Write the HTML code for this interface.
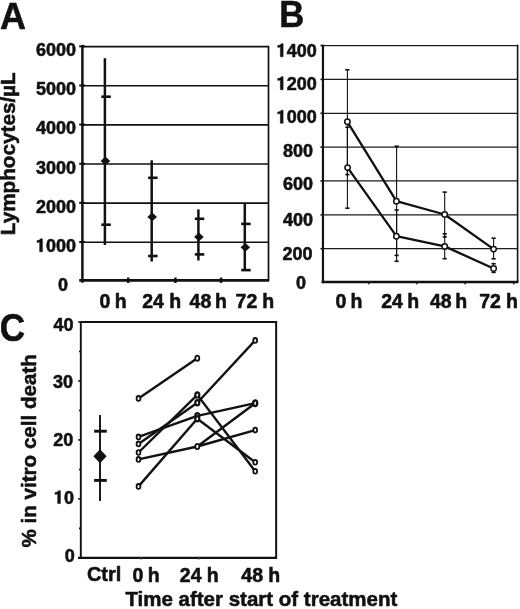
<!DOCTYPE html>
<html><head><meta charset="utf-8"><style>
html,body{margin:0;padding:0;background:#fff;width:520px;height:609px;overflow:hidden}
svg{display:block;will-change:transform}
path.g{fill:#111;stroke:#111;stroke-width:0.55px;stroke-linejoin:round}
text{font-family:"Liberation Sans",sans-serif;font-weight:bold;fill:#111;stroke:#111;stroke-width:0.55px;stroke-linejoin:round}
</style></head><body>
<svg width="520" height="609" viewBox="0 0 520 609">
<text x="0.10" y="28.50" font-size="36" text-anchor="start" >A</text>
<text transform="translate(279.3,26.7) scale(0.962,1)" font-size="36">B</text>
<text transform="translate(-0.33,340.8) scale(0.975,1.07)" font-size="36">C</text>
<line x1="82.40" y1="46.65" x2="268.50" y2="46.65" stroke="#111" stroke-width="1.6"/>
<line x1="79.20" y1="46.35" x2="85.00" y2="46.35" stroke="#111" stroke-width="2.0"/>
<line x1="82.40" y1="85.78" x2="268.50" y2="85.78" stroke="#111" stroke-width="1.6"/>
<line x1="79.20" y1="85.48" x2="85.00" y2="85.48" stroke="#111" stroke-width="2.0"/>
<line x1="82.40" y1="124.91" x2="268.50" y2="124.91" stroke="#111" stroke-width="1.6"/>
<line x1="79.20" y1="124.61" x2="85.00" y2="124.61" stroke="#111" stroke-width="2.0"/>
<line x1="82.40" y1="164.04" x2="268.50" y2="164.04" stroke="#111" stroke-width="1.6"/>
<line x1="79.20" y1="163.74" x2="85.00" y2="163.74" stroke="#111" stroke-width="2.0"/>
<line x1="82.40" y1="203.17" x2="268.50" y2="203.17" stroke="#111" stroke-width="1.6"/>
<line x1="79.20" y1="202.87" x2="85.00" y2="202.87" stroke="#111" stroke-width="2.0"/>
<line x1="82.40" y1="242.30" x2="268.50" y2="242.30" stroke="#111" stroke-width="1.6"/>
<line x1="79.20" y1="242.00" x2="85.00" y2="242.00" stroke="#111" stroke-width="2.0"/>
<line x1="268.50" y1="45.85" x2="268.50" y2="280.35" stroke="#111" stroke-width="1.7"/>
<line x1="79.20" y1="280.35" x2="269.20" y2="280.35" stroke="#111" stroke-width="2.6"/>
<line x1="128.20" y1="277.55" x2="128.20" y2="282.95" stroke="#111" stroke-width="2.5"/>
<line x1="175.40" y1="277.55" x2="175.40" y2="282.95" stroke="#111" stroke-width="2.5"/>
<line x1="221.10" y1="277.55" x2="221.10" y2="282.95" stroke="#111" stroke-width="2.5"/>
<line x1="82.40" y1="44.85" x2="82.40" y2="282.75" stroke="#111" stroke-width="2.5"/>
<text x="36.00" y="56.15" font-size="18" text-anchor="start" >6000</text>
<text x="36.00" y="95.28" font-size="18" text-anchor="start" >5000</text>
<text x="36.00" y="134.41" font-size="18" text-anchor="start" >4000</text>
<text x="36.00" y="173.54" font-size="18" text-anchor="start" >3000</text>
<text x="36.00" y="212.67" font-size="18" text-anchor="start" >2000</text>
<path d="M39.69 251.80L42.39 251.80L42.39 238.86L40.50 238.86C40.14 239.74 38.88 240.55 36.99 240.68L36.99 242.44C37.98 242.42 39.06 242.30 39.69 242.08Z" class="g"/>
<text x="46.01" y="251.80" font-size="18" text-anchor="start" >000</text>
<text x="58.00" y="290.95" font-size="18" text-anchor="start" >0</text>
<line x1="104.90" y1="58.20" x2="104.90" y2="245.00" stroke="#111" stroke-width="2.5"/>
<line x1="101.30" y1="96.70" x2="110.80" y2="96.70" stroke="#111" stroke-width="2.6"/>
<line x1="101.30" y1="224.70" x2="110.80" y2="224.70" stroke="#111" stroke-width="2.6"/>
<path d="M100.60 161.00L105.40 156.60L110.20 161.00L105.40 165.40Z" fill="#111"/>
<line x1="151.70" y1="160.30" x2="151.70" y2="261.50" stroke="#111" stroke-width="2.5"/>
<line x1="148.10" y1="177.80" x2="157.60" y2="177.80" stroke="#111" stroke-width="2.6"/>
<line x1="148.10" y1="256.00" x2="157.60" y2="256.00" stroke="#111" stroke-width="2.6"/>
<path d="M147.40 216.90L152.20 212.50L157.00 216.90L152.20 221.30Z" fill="#111"/>
<line x1="198.40" y1="209.40" x2="198.40" y2="260.50" stroke="#111" stroke-width="2.5"/>
<line x1="194.80" y1="218.80" x2="204.30" y2="218.80" stroke="#111" stroke-width="2.6"/>
<line x1="194.80" y1="254.40" x2="204.30" y2="254.40" stroke="#111" stroke-width="2.6"/>
<path d="M194.10 236.90L198.90 232.50L203.70 236.90L198.90 241.30Z" fill="#111"/>
<line x1="244.80" y1="203.00" x2="244.80" y2="270.10" stroke="#111" stroke-width="2.5"/>
<line x1="241.20" y1="223.90" x2="250.70" y2="223.90" stroke="#111" stroke-width="2.6"/>
<line x1="241.20" y1="270.10" x2="250.70" y2="270.10" stroke="#111" stroke-width="2.6"/>
<path d="M240.50 247.30L245.30 242.90L250.10 247.30L245.30 251.70Z" fill="#111"/>
<text x="99.40" y="307.60" font-size="19.5" text-anchor="start" >0</text>
<text x="114.80" y="307.60" font-size="19.5" text-anchor="start" >h</text>
<text x="142.20" y="307.60" font-size="19.5" text-anchor="start" >24</text>
<text x="169.20" y="307.60" font-size="19.5" text-anchor="start" >h</text>
<text x="189.60" y="307.60" font-size="19.5" text-anchor="start" >48</text>
<text x="215.10" y="307.60" font-size="19.5" text-anchor="start" >h</text>
<text x="235.60" y="307.60" font-size="19.5" text-anchor="start" >72</text>
<text x="262.30" y="307.60" font-size="19.5" text-anchor="start" >h</text>
<text transform="translate(15.4,235.2) rotate(-90)" font-size="20.7">Lymphocytes/µL</text>
<line x1="322.95" y1="45.55" x2="517.60" y2="45.55" stroke="#1c1c1c" stroke-width="1.25"/>
<line x1="320.50" y1="45.55" x2="322.95" y2="45.55" stroke="#111" stroke-width="1.6"/>
<line x1="322.95" y1="79.41" x2="517.60" y2="79.41" stroke="#1c1c1c" stroke-width="1.25"/>
<line x1="320.50" y1="79.41" x2="322.95" y2="79.41" stroke="#111" stroke-width="1.6"/>
<line x1="322.95" y1="113.27" x2="517.60" y2="113.27" stroke="#1c1c1c" stroke-width="1.25"/>
<line x1="320.50" y1="113.27" x2="322.95" y2="113.27" stroke="#111" stroke-width="1.6"/>
<line x1="322.95" y1="147.13" x2="517.60" y2="147.13" stroke="#1c1c1c" stroke-width="1.25"/>
<line x1="320.50" y1="147.13" x2="322.95" y2="147.13" stroke="#111" stroke-width="1.6"/>
<line x1="322.95" y1="180.99" x2="517.60" y2="180.99" stroke="#1c1c1c" stroke-width="1.25"/>
<line x1="320.50" y1="180.99" x2="322.95" y2="180.99" stroke="#111" stroke-width="1.6"/>
<line x1="322.95" y1="214.85" x2="517.60" y2="214.85" stroke="#1c1c1c" stroke-width="1.25"/>
<line x1="320.50" y1="214.85" x2="322.95" y2="214.85" stroke="#111" stroke-width="1.6"/>
<line x1="322.95" y1="248.71" x2="517.60" y2="248.71" stroke="#1c1c1c" stroke-width="1.25"/>
<line x1="320.50" y1="248.71" x2="322.95" y2="248.71" stroke="#111" stroke-width="1.6"/>
<line x1="517.60" y1="44.75" x2="517.60" y2="281.90" stroke="#111" stroke-width="1.6"/>
<line x1="321.60" y1="281.90" x2="518.40" y2="281.90" stroke="#111" stroke-width="2.5"/>
<line x1="368.80" y1="281.90" x2="368.80" y2="284.30" stroke="#111" stroke-width="1.6"/>
<line x1="416.80" y1="281.90" x2="416.80" y2="284.30" stroke="#111" stroke-width="1.6"/>
<line x1="465.20" y1="281.90" x2="465.20" y2="284.30" stroke="#111" stroke-width="1.6"/>
<line x1="513.70" y1="281.90" x2="513.70" y2="284.30" stroke="#111" stroke-width="1.6"/>
<line x1="322.95" y1="44.65" x2="322.95" y2="283.10" stroke="#111" stroke-width="2.2"/>
<path d="M280.39 56.70L283.09 56.70L283.09 43.76L281.20 43.76C280.84 44.64 279.58 45.45 277.69 45.58L277.69 47.34C278.68 47.32 279.76 47.20 280.39 46.98Z" class="g"/>
<text x="286.71" y="56.70" font-size="18" text-anchor="start" >400</text>
<path d="M280.39 89.70L283.09 89.70L283.09 76.76L281.20 76.76C280.84 77.64 279.58 78.45 277.69 78.58L277.69 80.34C278.68 80.32 279.76 80.20 280.39 79.98Z" class="g"/>
<text x="286.71" y="89.70" font-size="18" text-anchor="start" >200</text>
<path d="M280.39 123.20L283.09 123.20L283.09 110.26L281.20 110.26C280.84 111.14 279.58 111.95 277.69 112.08L277.69 113.84C278.68 113.82 279.76 113.70 280.39 113.48Z" class="g"/>
<text x="286.71" y="123.20" font-size="18" text-anchor="start" >000</text>
<text x="283.00" y="156.90" font-size="18" text-anchor="start" >800</text>
<text x="283.00" y="190.40" font-size="18" text-anchor="start" >600</text>
<text x="283.00" y="226.00" font-size="18" text-anchor="start" >400</text>
<text x="282.60" y="260.20" font-size="18" text-anchor="start" >200</text>
<text x="296.10" y="289.20" font-size="18" text-anchor="start" >0</text>
<line x1="347.40" y1="69.80" x2="347.40" y2="174.60" stroke="#111" stroke-width="1.1"/>
<line x1="345.30" y1="69.80" x2="349.50" y2="69.80" stroke="#111" stroke-width="1.6"/>
<line x1="345.30" y1="174.60" x2="349.50" y2="174.60" stroke="#111" stroke-width="1.6"/>
<line x1="347.40" y1="127.30" x2="347.40" y2="208.20" stroke="#111" stroke-width="1.1"/>
<line x1="345.30" y1="127.30" x2="349.50" y2="127.30" stroke="#111" stroke-width="1.6"/>
<line x1="345.30" y1="208.20" x2="349.50" y2="208.20" stroke="#111" stroke-width="1.6"/>
<line x1="396.60" y1="146.20" x2="396.60" y2="255.40" stroke="#111" stroke-width="1.1"/>
<line x1="394.50" y1="146.20" x2="398.70" y2="146.20" stroke="#111" stroke-width="1.6"/>
<line x1="394.50" y1="255.40" x2="398.70" y2="255.40" stroke="#111" stroke-width="1.6"/>
<line x1="396.60" y1="210.00" x2="396.60" y2="261.30" stroke="#111" stroke-width="1.1"/>
<line x1="394.50" y1="210.00" x2="398.70" y2="210.00" stroke="#111" stroke-width="1.6"/>
<line x1="394.50" y1="261.30" x2="398.70" y2="261.30" stroke="#111" stroke-width="1.6"/>
<line x1="444.70" y1="192.10" x2="444.70" y2="236.90" stroke="#111" stroke-width="1.1"/>
<line x1="442.60" y1="192.10" x2="446.80" y2="192.10" stroke="#111" stroke-width="1.6"/>
<line x1="442.60" y1="236.90" x2="446.80" y2="236.90" stroke="#111" stroke-width="1.6"/>
<line x1="444.70" y1="233.80" x2="444.70" y2="258.70" stroke="#111" stroke-width="1.1"/>
<line x1="442.60" y1="233.80" x2="446.80" y2="233.80" stroke="#111" stroke-width="1.6"/>
<line x1="442.60" y1="258.70" x2="446.80" y2="258.70" stroke="#111" stroke-width="1.6"/>
<line x1="493.60" y1="238.20" x2="493.60" y2="258.80" stroke="#111" stroke-width="1.1"/>
<line x1="491.50" y1="238.20" x2="495.70" y2="238.20" stroke="#111" stroke-width="1.6"/>
<line x1="491.50" y1="258.80" x2="495.70" y2="258.80" stroke="#111" stroke-width="1.6"/>
<line x1="493.60" y1="263.70" x2="493.60" y2="272.40" stroke="#111" stroke-width="1.1"/>
<line x1="491.50" y1="263.70" x2="495.70" y2="263.70" stroke="#111" stroke-width="1.6"/>
<line x1="491.50" y1="272.40" x2="495.70" y2="272.40" stroke="#111" stroke-width="1.6"/>
<path d="M347.40 121.80 L396.40 201.20 L444.70 214.50 L493.60 249.10" fill="none" stroke="#111" stroke-width="2.3" stroke-linejoin="round"/>
<ellipse cx="347.40" cy="121.80" rx="2.7" ry="2.7" fill="#fff" stroke="#111" stroke-width="1.5"/>
<ellipse cx="396.40" cy="201.20" rx="2.7" ry="2.7" fill="#fff" stroke="#111" stroke-width="1.5"/>
<ellipse cx="444.70" cy="214.50" rx="2.7" ry="2.7" fill="#fff" stroke="#111" stroke-width="1.5"/>
<ellipse cx="493.60" cy="249.10" rx="2.7" ry="2.7" fill="#fff" stroke="#111" stroke-width="1.5"/>
<path d="M347.60 167.60 L396.40 236.20 L444.70 246.40 L493.60 268.50" fill="none" stroke="#111" stroke-width="2.3" stroke-linejoin="round"/>
<ellipse cx="347.60" cy="167.60" rx="2.7" ry="2.7" fill="#fff" stroke="#111" stroke-width="1.5"/>
<ellipse cx="396.40" cy="236.20" rx="2.7" ry="2.7" fill="#fff" stroke="#111" stroke-width="1.5"/>
<ellipse cx="444.70" cy="246.40" rx="2.7" ry="2.7" fill="#fff" stroke="#111" stroke-width="1.5"/>
<ellipse cx="493.60" cy="268.50" rx="2.7" ry="2.7" fill="#fff" stroke="#111" stroke-width="1.5"/>
<text x="335.50" y="308.40" font-size="19.5" text-anchor="start" >0</text>
<text x="350.60" y="308.40" font-size="19.5" text-anchor="start" >h</text>
<text x="381.20" y="308.40" font-size="19.5" text-anchor="start" >24</text>
<text x="407.20" y="308.40" font-size="19.5" text-anchor="start" >h</text>
<text x="430.00" y="308.40" font-size="19.5" text-anchor="start" >48</text>
<text x="455.20" y="308.40" font-size="19.5" text-anchor="start" >h</text>
<text x="479.20" y="308.40" font-size="19.5" text-anchor="start" >72</text>
<text x="506.00" y="308.40" font-size="19.5" text-anchor="start" >h</text>
<line x1="80.80" y1="322.00" x2="276.15" y2="322.00" stroke="#111" stroke-width="2.0"/>
<line x1="276.15" y1="321.00" x2="276.15" y2="558.90" stroke="#111" stroke-width="2.0"/>
<line x1="78.00" y1="557.90" x2="277.00" y2="557.90" stroke="#111" stroke-width="2.2"/>
<line x1="80.80" y1="321.00" x2="80.80" y2="558.90" stroke="#111" stroke-width="1.9"/>
<line x1="141.30" y1="557.90" x2="141.30" y2="559.70" stroke="#666" stroke-width="1.2"/>
<line x1="198.80" y1="557.90" x2="198.80" y2="559.70" stroke="#666" stroke-width="1.2"/>
<line x1="78.20" y1="557.90" x2="80.80" y2="557.90" stroke="#111" stroke-width="1.6"/>
<line x1="79.00" y1="528.41" x2="80.80" y2="528.41" stroke="#111" stroke-width="1.6"/>
<line x1="78.20" y1="498.92" x2="80.80" y2="498.92" stroke="#111" stroke-width="1.6"/>
<line x1="79.00" y1="469.44" x2="80.80" y2="469.44" stroke="#111" stroke-width="1.6"/>
<line x1="78.20" y1="439.95" x2="80.80" y2="439.95" stroke="#111" stroke-width="1.6"/>
<line x1="79.00" y1="410.46" x2="80.80" y2="410.46" stroke="#111" stroke-width="1.6"/>
<line x1="78.20" y1="380.98" x2="80.80" y2="380.98" stroke="#111" stroke-width="1.6"/>
<line x1="79.00" y1="351.49" x2="80.80" y2="351.49" stroke="#111" stroke-width="1.6"/>
<line x1="78.20" y1="322.00" x2="80.80" y2="322.00" stroke="#111" stroke-width="1.6"/>
<text x="53.40" y="330.80" font-size="18" text-anchor="start" >40</text>
<text x="53.00" y="388.30" font-size="18" text-anchor="start" >30</text>
<text x="53.20" y="446.00" font-size="18" text-anchor="start" >20</text>
<path d="M57.69 503.60L60.39 503.60L60.39 490.66L58.50 490.66C58.14 491.54 56.88 492.35 54.99 492.48L54.99 494.24C55.98 494.22 57.06 494.10 57.69 493.88Z" class="g"/>
<text x="64.01" y="503.60" font-size="18" text-anchor="start" >0</text>
<text x="64.70" y="562.40" font-size="18" text-anchor="start" >0</text>
<line x1="100.00" y1="414.90" x2="100.00" y2="501.10" stroke="#111" stroke-width="1.9"/>
<line x1="94.10" y1="431.20" x2="106.80" y2="431.20" stroke="#111" stroke-width="2.9"/>
<line x1="94.10" y1="480.40" x2="106.80" y2="480.40" stroke="#111" stroke-width="2.9"/>
<path d="M93.40 456.30L100.00 449.30L106.60 456.30L100.00 463.30Z" fill="#111"/>
<line x1="138.50" y1="398.40" x2="197.30" y2="358.30" stroke="#111" stroke-width="2.4"/>
<line x1="138.50" y1="436.90" x2="197.30" y2="415.80" stroke="#111" stroke-width="2.4"/>
<line x1="138.50" y1="443.90" x2="197.30" y2="402.70" stroke="#111" stroke-width="2.4"/>
<line x1="138.50" y1="452.50" x2="197.30" y2="394.90" stroke="#111" stroke-width="2.4"/>
<line x1="138.50" y1="459.40" x2="197.30" y2="446.50" stroke="#111" stroke-width="2.4"/>
<line x1="138.50" y1="486.40" x2="197.30" y2="418.80" stroke="#111" stroke-width="2.4"/>
<line x1="197.30" y1="402.70" x2="255.20" y2="340.40" stroke="#111" stroke-width="2.4"/>
<line x1="197.30" y1="394.90" x2="255.20" y2="471.30" stroke="#111" stroke-width="2.4"/>
<line x1="197.30" y1="415.80" x2="255.20" y2="403.20" stroke="#111" stroke-width="2.4"/>
<line x1="197.30" y1="418.80" x2="255.20" y2="462.20" stroke="#111" stroke-width="2.4"/>
<line x1="197.30" y1="446.50" x2="255.20" y2="403.20" stroke="#111" stroke-width="2.4"/>
<line x1="197.30" y1="446.50" x2="255.20" y2="430.10" stroke="#111" stroke-width="2.4"/>
<ellipse cx="138.50" cy="398.40" rx="1.9" ry="2.4" fill="#fff" stroke="#111" stroke-width="1.8"/>
<ellipse cx="138.50" cy="436.90" rx="1.9" ry="2.4" fill="#fff" stroke="#111" stroke-width="1.8"/>
<ellipse cx="138.50" cy="443.90" rx="1.9" ry="2.4" fill="#fff" stroke="#111" stroke-width="1.8"/>
<ellipse cx="138.50" cy="452.50" rx="1.9" ry="2.4" fill="#fff" stroke="#111" stroke-width="1.8"/>
<ellipse cx="138.50" cy="459.40" rx="1.9" ry="2.4" fill="#fff" stroke="#111" stroke-width="1.8"/>
<ellipse cx="138.50" cy="486.40" rx="1.9" ry="2.4" fill="#fff" stroke="#111" stroke-width="1.8"/>
<ellipse cx="197.30" cy="358.30" rx="2.0" ry="2.6" fill="#fff" stroke="#111" stroke-width="1.8"/>
<ellipse cx="197.30" cy="394.90" rx="2.0" ry="2.6" fill="#fff" stroke="#111" stroke-width="2.2"/>
<ellipse cx="197.30" cy="402.70" rx="2.0" ry="2.6" fill="#fff" stroke="#111" stroke-width="2.2"/>
<ellipse cx="197.30" cy="415.80" rx="2.0" ry="2.6" fill="#fff" stroke="#111" stroke-width="2.2"/>
<ellipse cx="197.30" cy="418.80" rx="2.0" ry="2.6" fill="#fff" stroke="#111" stroke-width="2.2"/>
<ellipse cx="197.30" cy="446.50" rx="2.0" ry="2.6" fill="#fff" stroke="#111" stroke-width="1.8"/>
<ellipse cx="255.20" cy="340.40" rx="1.9" ry="2.4" fill="#fff" stroke="#111" stroke-width="1.8"/>
<ellipse cx="255.20" cy="403.20" rx="2.0" ry="2.9" fill="#fff" stroke="#111" stroke-width="2.3"/>
<ellipse cx="255.20" cy="430.10" rx="1.9" ry="2.4" fill="#fff" stroke="#111" stroke-width="1.8"/>
<ellipse cx="255.20" cy="462.20" rx="1.9" ry="2.4" fill="#fff" stroke="#111" stroke-width="1.8"/>
<ellipse cx="255.20" cy="471.30" rx="1.9" ry="2.4" fill="#fff" stroke="#111" stroke-width="1.8"/>
<text x="86.90" y="581.40" font-size="20" text-anchor="start" >Ctrl</text>
<text x="132.40" y="581.60" font-size="19.5" text-anchor="start" >0</text>
<text x="147.80" y="581.60" font-size="19.5" text-anchor="start" >h</text>
<text x="179.80" y="581.60" font-size="19.5" text-anchor="start" >24</text>
<text x="206.70" y="581.60" font-size="19.5" text-anchor="start" >h</text>
<text x="241.30" y="581.60" font-size="19.5" text-anchor="start" >48</text>
<text x="268.20" y="581.60" font-size="19.5" text-anchor="start" >h</text>
<text x="125.40" y="605.60" font-size="20.5" text-anchor="start" >Time after start of treatment</text>
<text transform="translate(36.0,547.6) rotate(-90)" font-size="20.62">% in vitro cell death</text>
</svg></body></html>
